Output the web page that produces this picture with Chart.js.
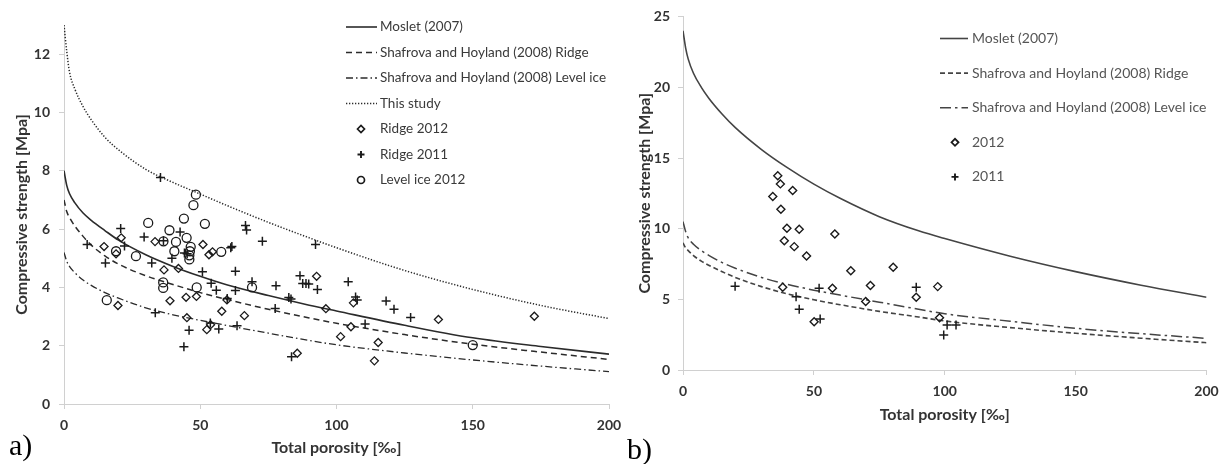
<!DOCTYPE html>
<html><head><meta charset="utf-8">
<script src="https://cdn.jsdelivr.net/npm/chart.js@4.4.0/dist/chart.umd.min.js"></script>
<style>
html,body{margin:0;padding:0;background:#fff;width:1227px;height:464px;overflow:hidden;position:relative;}
#wa{position:absolute;left:0;top:0;width:640px;height:464px;}
#wb{position:absolute;left:620px;top:0;width:607px;height:464px;}
.lab{position:absolute;font-family:"Liberation Serif","DejaVu Serif",serif;font-size:30px;line-height:30px;color:#000;}
</style></head>
<body>
<div id="wa"><canvas id="ca" width="640" height="464"></canvas></div>
<div id="wb"><canvas id="cb" width="607" height="464"></canvas></div>
<div class="lab" style="left:9px;top:430px">a)</div>
<div class="lab" style="left:627px;top:434px">b)</div>
<script>
// ---------- data ----------
const curveX = [0,1,2,4,7,10,15,20,30,40,50,60,75,90,100,125,150,175,200];
// panel a curves
const aMoslet   = [8.0,7.5,7.22,6.9,6.55,6.3,5.95,5.62,5.12,4.72,4.38,4.08,3.72,3.39,3.19,2.7,2.27,1.97,1.71];
const aRidgeFit = [7.0,6.6,6.4,6.1,5.75,5.45,5.08,4.8,4.4,4.1,3.82,3.58,3.25,2.95,2.77,2.38,2.05,1.78,1.53];
const aLevelFit = [5.2,4.9,4.72,4.5,4.25,4.07,3.82,3.63,3.3,3.06,2.87,2.69,2.43,2.18,2.03,1.75,1.51,1.3,1.11];
const aThisStudy= [13.0,12.1,11.4,10.8,10.2,9.75,9.15,8.72,8.05,7.6,7.2,6.8,6.23,5.7,5.36,4.58,3.93,3.38,2.93];
// panel b curves
const bMoslet   = [24.0,22.8,22.0,21.0,20.0,19.2,18.1,17.15,15.6,14.3,13.15,12.15,10.85,9.85,9.3,8.05,6.96,6.0,5.15];
const bRidgeFit = [9.0,8.65,8.45,8.1,7.7,7.4,6.95,6.55,5.9,5.38,4.97,4.62,4.15,3.75,3.47,3.0,2.6,2.25,1.93];
const bLevelFit = [10.5,9.8,9.35,8.9,8.45,8.1,7.6,7.2,6.55,6.05,5.65,5.3,4.8,4.3,3.98,3.45,2.95,2.57,2.24];
// panel a measurements
const aRidge2012X = [14.7,19.1,21.0,33.4,36.7,42.0,38.9,44.8,48.6,19.8,45.1,51.0,53.2,54.5,59.8,57.9,66.2,52.4,53.8,92.7,96.1,106.2,105.3,101.5,115.3,113.9,137.4,172.6,85.6];
const aRidge2012Y = [5.40,5.15,5.70,5.57,4.60,4.65,3.54,3.66,3.69,3.38,2.96,5.47,5.12,5.22,3.57,3.18,3.03,2.55,2.72,4.38,3.27,3.47,2.65,2.31,2.11,1.48,2.90,3.01,1.74];
const aRidge2011X = [35.4,20.8,22.2,8.5,15.2,29.4,32.2,33.5,36.5,42.6,39.6,44.2,45.2,44.0,45.9,50.8,54.0,55.9,59.9,61.2,61.6,62.9,62.9,66.6,67.0,72.8,69.0,77.8,77.5,82.5,83.3,86.6,87.6,88.8,89.8,93.0,92.3,53.7,56.8,63.5,83.5,104.3,107.0,107.6,110.5,118.2,121.1,127.2];
const aRidge2011Y = [7.77,6.02,5.42,5.47,4.84,5.73,4.84,3.13,5.60,5.90,5.00,5.18,5.15,1.96,2.53,4.54,4.14,3.90,3.62,5.36,5.40,4.55,3.89,6.12,5.97,5.58,4.19,4.06,3.28,3.65,3.60,4.40,4.13,4.13,4.12,3.93,5.47,2.78,2.57,2.68,1.62,4.19,3.67,3.57,2.74,3.53,3.25,2.97];
const aLevel2012X = [48.4,47.5,44.0,30.9,38.7,36.5,41.1,45.0,46.5,46.2,46.0,46.0,40.5,19.1,26.4,36.4,36.4,15.7,48.7,51.7,57.7,69.0,150.0];
const aLevel2012Y = [7.18,6.82,6.36,6.21,5.96,5.58,5.56,5.70,5.39,5.24,5.10,4.96,5.24,5.24,5.07,4.17,3.98,3.56,4.00,6.18,5.22,4.00,2.02];
// panel b measurements
const b2012X = [36.2,37.2,41.9,34.3,37.4,39.7,44.4,58.0,38.7,42.5,47.2,64.1,80.3,38.1,57.1,71.6,69.8,50.1,89.1,97.3,98.0];
const b2012Y = [13.74,13.17,12.70,12.28,11.38,10.03,9.96,9.63,9.14,8.73,8.07,7.03,7.27,5.85,5.78,5.98,4.84,3.42,5.15,5.90,3.70];
const b2011X = [19.9,52.0,43.2,44.4,52.4,89.1,99.6,100.9,104.3];
const b2011Y = [5.92,5.78,5.19,4.30,3.61,5.86,2.48,3.19,3.19];
// axes
const xTickStep = 50, xMin = 0, xMax = 200;
const aYMax = 13, aYStep = 2;
const bYMax = 25, bYStep = 5;
const xTitle = 'Total porosity [‰]';
const yTitle = 'Compressive strength [Mpa]';

// ---------- helpers ----------
const pts = (xs, ys) => xs.map((x, i) => ({x, y: ys[i]}));
const FONT = 'Lato, "Open Sans", "DejaVu Sans", sans-serif';

function lineDs(label, ys, color, dash, width) {
  return {label, data: pts(curveX, ys), showLine: true, borderColor: color, borderWidth: width,
    borderDash: dash, pointRadius: 0, cubicInterpolationMode: 'monotone', fill: false, order: 2};
}
function markDs(label, xs, ys, style, r, bw) {
  return {label, data: pts(xs, ys), showLine: false, pointStyle: style, pointRadius: r,
    pointBorderWidth: bw, borderColor: '#1a1a1a', backgroundColor: 'rgba(255,255,255,0)',
    pointBackgroundColor: 'rgba(255,255,255,0)', order: 1};
}

const legendPlugin = {
  id: 'customLegend',
  afterDraw(chart, args, o) {
    const ctx = chart.ctx;
    ctx.save();
    chart.data.datasets.forEach((ds, i) => {
      const y = o.y0 + i * o.dy;
      if (ds.showLine) {
        ctx.beginPath();
        ctx.setLineDash(ds.borderDash || []);
        ctx.lineWidth = ds.borderWidth;
        ctx.strokeStyle = ds.borderColor;
        ctx.moveTo(o.lineX0, y); ctx.lineTo(o.lineX1, y); ctx.stroke();
        ctx.setLineDash([]);
      } else {
        ctx.strokeStyle = ds.borderColor;
        ctx.fillStyle = '#fff';
        ctx.lineWidth = ds.pointBorderWidth + 0.4;
        Chart.helpers.drawPoint(ctx, {pointStyle: ds.pointStyle, radius: o.symR, borderWidth: ds.pointBorderWidth + 0.4, rotation: 0}, o.symX, y);
      }
      ctx.fillStyle = o.color;
      ctx.font = o.font;
      ctx.textBaseline = 'middle';
      ctx.textAlign = 'left';
      ctx.fillText(ds.label, o.textX, y);
    });
    ctx.restore();
  }
};

function scales(yMax, yStep, yW, xH, yTitlePad, xTitlePad, xTickPad, yTickPad) {
  const tickFont = {family: FONT, size: 14, weight: 'bold'};
  const titleFont = {family: FONT, size: 16, weight: 'bold'};
  const grid = {display: true, drawOnChartArea: false, drawTicks: true, tickLength: 5, color: '#d0d0d0'};
  return {
    x: {type: 'linear', min: xMin, max: xMax,
      ticks: {stepSize: xTickStep, font: tickFont, color: '#333', padding: xTickPad, maxRotation: 0},
      grid, border: {color: '#d0d0d0', width: 1},
      title: {display: true, text: xTitle, font: titleFont, color: '#333', padding: {top: 0, bottom: xTitlePad}},
      afterFit: s => { s.height = xH; }},
    y: {type: 'linear', min: 0, max: yMax,
      ticks: {stepSize: yStep, includeBounds: false, font: tickFont, color: '#333', padding: yTickPad},
      grid, border: {color: '#d0d0d0', width: 1},
      title: {display: true, text: yTitle, font: titleFont, color: '#333', padding: {top: yTitlePad, bottom: 0}},
      afterFit: s => { s.width = yW; }}
  };
}

Chart.defaults.font.family = FONT;

new Chart(document.getElementById('ca'), {
  type: 'scatter',
  data: {datasets: [
    lineDs('Moslet (2007)', aMoslet, '#2b2b2b', [], 1.6),
    lineDs('Shafrova and Hoyland (2008) Ridge', aRidgeFit, '#2b2b2b', [6, 4], 1.5),
    lineDs('Shafrova and Hoyland (2008) Level ice', aLevelFit, '#2b2b2b', [7, 3, 1.5, 3], 1.3),
    lineDs('This study', aThisStudy, '#2b2b2b', [1.3, 1.7], 1.5),
    markDs('Ridge 2012', aRidge2012X, aRidge2012Y, 'rectRot', 4, 1.3),
    markDs('Ridge 2011', aRidge2011X, aRidge2011Y, 'cross', 4.5, 1.5),
    markDs('Level ice 2012', aLevel2012X, aLevel2012Y, 'circle', 4.5, 1.3)
  ]},
  options: {
    responsive: false, animation: false, events: [],
    layout: {padding: {left: 0, top: 25, right: 31, bottom: 0}},
    plugins: {legend: {display: false}, tooltip: {enabled: false},
      customLegend: {y0: 27, dy: 25.5, lineX0: 346, lineX1: 377, symX: 361, symR: 3.5, textX: 380,
        font: '13.5px ' + FONT, color: '#3a3a3a'}},
    scales: scales(aYMax, aYStep, 64, 60, 12.4, 6.4, 7.6, 9)
  },
  plugins: [legendPlugin]
});

new Chart(document.getElementById('cb'), {
  type: 'scatter',
  data: {datasets: [
    lineDs('Moslet (2007)', bMoslet, '#444', [], 1.6),
    lineDs('Shafrova and Hoyland (2008) Ridge', bRidgeFit, '#444', [5, 3], 1.6),
    lineDs('Shafrova and Hoyland (2008) Level ice', bLevelFit, '#444', [11, 4, 2.5, 4], 1.5),
    markDs('2012', b2012X, b2012Y, 'rectRot', 4, 1.4),
    markDs('2011', b2011X, b2011Y, 'cross', 4.5, 1.5)
  ]},
  options: {
    responsive: false, animation: false, events: [],
    layout: {padding: {left: 0, top: 16.7, right: 19, bottom: 0}},
    plugins: {legend: {display: false}, tooltip: {enabled: false},
      customLegend: {y0: 38.5, dy: 34.6, lineX0: 320, lineX1: 348, symX: 335, symR: 3.5, textX: 352,
        font: '14px ' + FONT, color: '#555'}},
    scales: scales(bYMax, bYStep, 63, 94, 15.4, 39.4, 8.3, 8)
  },
  plugins: [legendPlugin]
});
</script>
</body></html>
